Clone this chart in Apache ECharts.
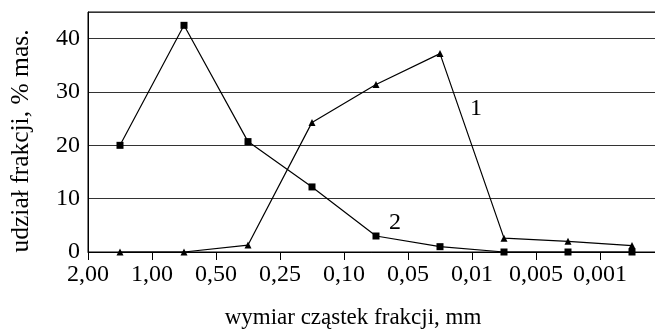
<!DOCTYPE html>
<html>
<head>
<meta charset="utf-8">
<script src="https://cdn.jsdelivr.net/npm/echarts@6/dist/echarts.min.js"></script>
<style>html,body{margin:0;padding:0;background:#fff}#c{width:655px;height:334px}</style>
</head>
<body>
<div id="c"></div>
<script>
var categories = ['f1','f2','f3','f4','f5','f6','f7','f8','f9'];
var tickLabels = ['2,00','1,00','0,50','0,25','0,10','0,05','0,01','0,005','0,001'];
var series1 = [0, 0, 1.3, 24.3, 31.4, 37.2, 2.6, 2.0, 1.2];
var series2 = [20.0, 42.5, 20.7, 12.2, 3.0, 1.0, 0, 0, 0];
var yTitle = 'udział frakcji, % mas.';
var xTitle = 'wymiar cząstek frakcji, mm';
var FONT = 'Liberation Serif';

var chart = echarts.init(document.getElementById('c'), null, {renderer: 'canvas'});
chart.setOption({
  animation: false,
  backgroundColor: '#fff',
  grid: {left: 88, top: 12, bottom: 82, right: -9, outerBoundsMode: 'none', containLabel: false,
    show: true, borderColor: '#000', borderWidth: 1},
  xAxis: [{
    type: 'category', data: categories, boundaryGap: true,
    axisLine: {show: true, lineStyle: {color: '#000', width: 1}},
    axisTick: {show: false}, axisLabel: {show: false}, splitLine: {show: false}
  }, {
    type: 'value', min: 0, max: 9, interval: 1, position: 'bottom',
    axisLine: {show: false},
    axisTick: {show: true, length: 8, lineStyle: {color: '#000'}},
    axisLabel: {show: true, margin: 11, color: '#000', fontFamily: FONT, fontSize: 24,
      formatter: function (v) { return tickLabels[v] || ''; }},
    splitLine: {show: false}
  }],
  yAxis: {
    type: 'value', min: 0, max: 45, interval: 10,
    axisLine: {show: true, lineStyle: {color: '#000'}},
    axisTick: {show: false},
    axisLabel: {color: '#000', fontFamily: FONT, fontSize: 24, margin: 8, showMaxLabel: false},
    splitLine: {show: true, lineStyle: {color: '#333', width: 1}}
  },
  series: [{
    name: '1', type: 'line', data: series1, xAxisIndex: 0,
    symbol: 'triangle', symbolSize: 7,
    lineStyle: {color: '#000', width: 1.2}, itemStyle: {color: '#000'}
  }, {
    name: '2', type: 'line', data: series2, xAxisIndex: 0,
    symbol: 'rect', symbolSize: 7,
    lineStyle: {color: '#000', width: 1.2}, itemStyle: {color: '#000'}
  }],
  graphic: [
    {type: 'text', left: 470, top: 97, style: {text: '1', font: '24px "' + FONT + '"', fill: '#000'}},
    {type: 'text', left: 389, top: 211, style: {text: '2', font: '24px "' + FONT + '"', fill: '#000'}},
    {type: 'text', x: 353, y: 318, style: {text: xTitle, font: '23px "' + FONT + '"', fill: '#000', align: 'center', verticalAlign: 'middle'}},
    {type: 'text', x: 21, y: 141, rotation: Math.PI / 2, style: {text: yTitle, font: '25.5px "' + FONT + '"', fill: '#000', align: 'center', verticalAlign: 'middle'}}
  ]
});
</script>
</body>
</html>
